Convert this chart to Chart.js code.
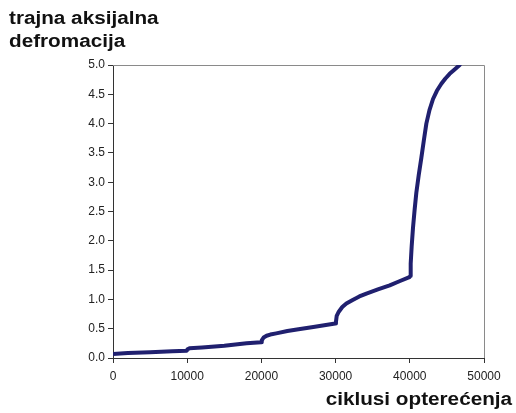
<!DOCTYPE html>
<html>
<head>
<meta charset="utf-8">
<script src="https://cdn.jsdelivr.net/npm/chart.js@4"></script>
<style>
  body { margin: 0; background: #fff; }
  .wrap { position: relative; width: 516px; height: 413px; }
  canvas { position: absolute; left: 0; top: 0; }
  .ttl {
    position: absolute;
    font-family: "Liberation Sans", Arial, sans-serif;
    font-weight: bold;
    font-size: 18px;
    line-height: 23px;
    color: #111;
    white-space: nowrap;
    transform: scaleX(1.15);
  }
  #ytitle { left: 9px; top: 7px; transform-origin: left top; }
  #xtitle { right: 4px; top: 388px; transform-origin: right top; }
</style>
</head>
<body>
<div class="wrap">
  <canvas id="deformChart" width="516" height="413"></canvas>
  <div class="ttl" id="ytitle">trajna aksijalna<br>defromacija</div>
  <div class="ttl" id="xtitle">ciklusi opterećenja</div>
</div>
<script>
// load cycles and permanent axial deformation
const cycles = [
  0, 2000, 5000, 8000, 9950,
  10050, 10300, 12000, 15000, 18000, 19950,
  20050, 20300, 20700, 21200, 22000, 23500, 25000, 27000, 29950,
  30050, 30150, 30430, 30900, 31450, 32300, 33200, 34150, 35700, 37290, 38600, 39950,
  40050, 40120, 40250, 40430, 40650, 40880, 41200, 41560, 41900,
  42230, 42650, 43130, 43650, 44250, 44800, 45370, 46000, 46720
];
const deformation = [
  0.07, 0.085, 0.10, 0.115, 0.125,
  0.15, 0.165, 0.18, 0.21, 0.25, 0.27,
  0.30, 0.35, 0.38, 0.40, 0.42, 0.46, 0.49, 0.53, 0.59,
  0.62, 0.72, 0.79, 0.87, 0.93, 0.99, 1.05, 1.10, 1.17, 1.24, 1.31, 1.38,
  1.40, 1.61, 1.90, 2.22, 2.53, 2.82, 3.12, 3.42, 3.72,
  4.00, 4.23, 4.42, 4.56, 4.68, 4.77, 4.85, 4.92, 5.0
];
const xTicks = [0, 10000, 20000, 30000, 40000, 50000];
const yTicks = [0, 0.5, 1, 1.5, 2, 2.5, 3, 3.5, 4, 4.5, 5];

const points = cycles.map((c, i) => ({ x: c, y: deformation[i] }));

// gray frame on top and right of the plot area
const frame = {
  id: "frame",
  beforeDatasetsDraw(chart) {
    const a = chart.chartArea;
    const c = chart.ctx;
    c.save();
    c.strokeStyle = "#8a8a8a";
    c.lineWidth = 1;
    c.beginPath();
    c.moveTo(a.left, a.top + 0.5);
    c.lineTo(a.right + 0.5, a.top + 0.5);
    c.lineTo(a.right + 0.5, a.bottom);
    c.stroke();
    c.restore();
  },
};

const tickFont = { family: "'Liberation Sans', Arial, sans-serif", size: 12 };

new Chart(document.getElementById("deformChart").getContext("2d"), {
  type: "scatter",
  data: {
    datasets: [
      {
        data: points,
        showLine: true,
        borderColor: "#20206f",
        borderWidth: 4,
        borderCapStyle: "round",
        borderJoinStyle: "round",
        pointRadius: 0,
        tension: 0,
      },
    ],
  },
  options: {
    responsive: false,
    animation: false,
    layout: { padding: { left: 0, top: 65, right: 32, bottom: 0 } },
    plugins: { legend: { display: false }, tooltip: { enabled: false } },
    scales: {
      x: {
        type: "linear",
        min: 0,
        max: 50000,
        afterBuildTicks: (s) => { s.ticks = xTicks.map((v) => ({ value: v })); },
        afterFit: (s) => { s.height = 55; },
        grid: { drawOnChartArea: false, tickLength: 5, color: "#333" },
        border: { color: "#333", width: 1 },
        ticks: {
          color: "#222",
          font: tickFont,
          padding: 6,
          maxRotation: 0,
          callback: (v) => String(v),
        },
      },
      y: {
        type: "linear",
        min: 0,
        max: 5,
        afterBuildTicks: (s) => { s.ticks = yTicks.map((v) => ({ value: v })); },
        afterFit: (s) => { s.width = 113; },
        grid: { drawOnChartArea: false, tickLength: 5, color: "#333" },
        border: { color: "#333", width: 1 },
        ticks: {
          color: "#222",
          font: tickFont,
          padding: 3,
          callback: (v) => v.toFixed(1),
        },
      },
    },
  },
  plugins: [frame],
});
</script>
</body>
</html>
